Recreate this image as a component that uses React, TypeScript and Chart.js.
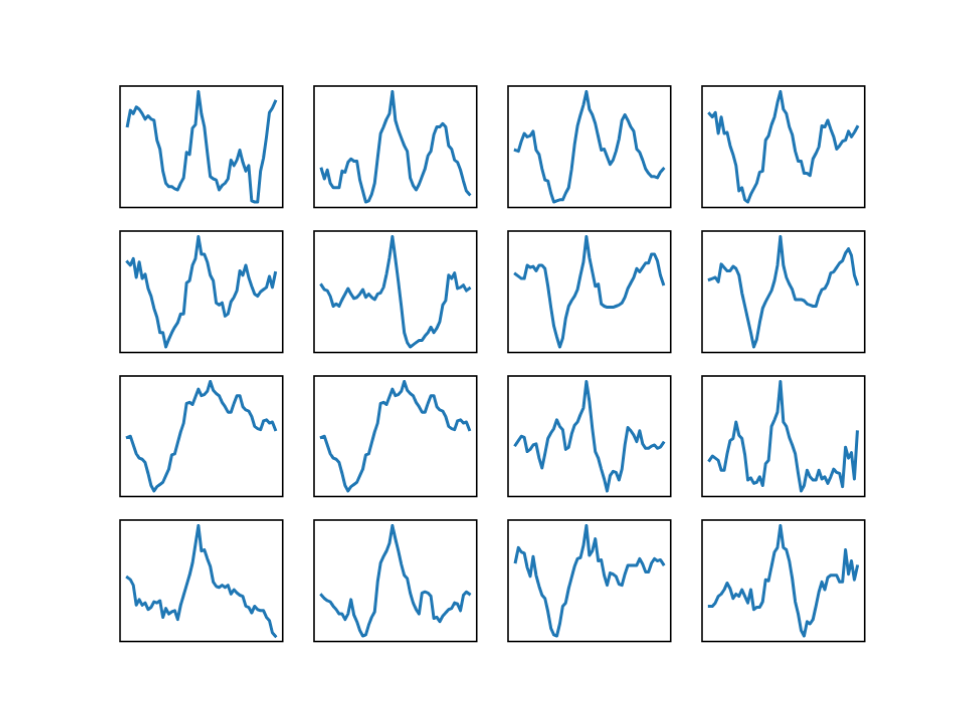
import { useEffect, useRef } from "react";
import { Chart, registerables } from "chart.js";

Chart.register(...registerables);

// sample index along x (same for every panel)
const steps = Array.from({ length: 51 }, (_, i) => i);

// row 1
const r1c1 = [69, 83, 80, 86, 84, 80, 75, 78, 75, 74, 56, 48, 28, 17, 14, 14, 12, 11, 17, 22, 45, 43, 67, 70, 100, 80, 68, 45, 23, 21, 20, 11, 15, 17, 21, 38, 33, 38, 47, 36, 28, 33, 1, 0, 0, 28, 40, 59, 81, 85, 91];
const r1c2 = [30, 21, 29, 17, 13, 13, 13, 28, 27, 36, 39, 37, 37, 20, 10, 0, 1, 7, 17, 40, 62, 68, 75, 80, 100, 74, 65, 58, 51, 46, 22, 15, 11, 16, 23, 30, 42, 46, 61, 68, 68, 71, 68, 51, 48, 38, 36, 29, 19, 10, 7];
const r1c3 = [47, 46, 55, 62, 59, 60, 64, 47, 43, 30, 20, 19, 8, 0, 1, 2, 2, 8, 13, 30, 52, 69, 79, 88, 100, 84, 79, 71, 59, 47, 48, 41, 34, 38, 46, 57, 74, 79, 74, 68, 64, 48, 45, 38, 30, 26, 23, 23, 22, 27, 30];
const r1c4 = [80, 77, 81, 62, 77, 62, 63, 51, 43, 33, 10, 13, 2, 0, 7, 12, 17, 27, 28, 56, 60, 70, 77, 90, 100, 84, 80, 68, 61, 46, 37, 37, 26, 26, 24, 39, 44, 50, 69, 68, 74, 66, 59, 48, 51, 55, 56, 64, 59, 63, 68];

// row 2
const r2c1 = [77, 74, 80, 63, 77, 62, 66, 53, 46, 35, 27, 13, 13, 0, 7, 13, 18, 22, 30, 30, 58, 60, 74, 80, 100, 84, 84, 77, 65, 60, 40, 38, 40, 28, 30, 41, 45, 51, 69, 65, 74, 63, 55, 48, 46, 50, 52, 54, 64, 54, 67];
const r2c2 = [56, 52, 51, 46, 37, 39, 37, 43, 48, 53, 48, 44, 45, 48, 52, 45, 48, 45, 43, 48, 49, 54, 66, 81, 100, 80, 59, 37, 13, 4, 0, 2, 4, 6, 6, 10, 13, 18, 13, 17, 23, 38, 42, 65, 62, 67, 53, 54, 56, 51, 53];
const r2c3 = [66, 64, 62, 62, 74, 72, 73, 69, 74, 74, 71, 55, 36, 19, 9, 0, 8, 26, 37, 42, 46, 52, 65, 77, 100, 81, 68, 55, 57, 39, 37, 36, 36, 36, 37, 38, 40, 45, 53, 58, 63, 71, 68, 72, 76, 76, 84, 84, 78, 65, 57];
const r2c4 = [61, 62, 63, 59, 75, 72, 69, 69, 73, 71, 65, 49, 37, 25, 13, 0, 7, 22, 35, 41, 46, 51, 60, 74, 100, 74, 63, 57, 52, 43, 43, 43, 42, 39, 38, 37, 37, 46, 52, 53, 58, 67, 68, 72, 76, 78, 85, 89, 83, 65, 57];

// row 3
const r3c1 = [49, 50, 42, 34, 30, 29, 26, 16, 5, 0, 4, 6, 8, 14, 20, 33, 34, 44, 54, 62, 80, 81, 79, 86, 93, 87, 88, 91, 100, 92, 89, 87, 81, 77, 72, 72, 80, 87, 87, 77, 74, 73, 68, 59, 57, 56, 64, 65, 62, 63, 56];
const r3c2 = [49, 50, 42, 34, 30, 29, 26, 16, 5, 0, 4, 6, 8, 14, 20, 33, 34, 44, 54, 62, 80, 81, 79, 86, 93, 87, 88, 91, 100, 92, 89, 87, 81, 77, 72, 72, 80, 87, 87, 77, 74, 73, 68, 59, 57, 56, 64, 65, 62, 63, 56];
const r3c3 = [42, 46, 50, 49, 36, 38, 42, 43, 30, 21, 34, 48, 53, 57, 65, 59, 56, 38, 40, 52, 60, 63, 70, 76, 100, 82, 57, 36, 30, 20, 11, 0, 14, 18, 17, 10, 20, 42, 58, 55, 51, 45, 55, 43, 39, 39, 41, 42, 39, 40, 44];
const r3c4 = [28, 32, 30, 28, 19, 19, 34, 46, 48, 63, 51, 48, 33, 10, 12, 7, 8, 13, 5, 25, 28, 59, 65, 72, 100, 63, 59, 49, 42, 34, 16, 0, 5, 19, 13, 10, 10, 19, 11, 13, 7, 13, 20, 17, 16, 4, 40, 30, 35, 11, 54];

// row 4
const r4c1 = [53, 51, 46, 28, 33, 28, 30, 24, 26, 31, 30, 32, 17, 25, 20, 22, 23, 15, 28, 37, 46, 55, 66, 83, 100, 77, 78, 70, 63, 49, 45, 44, 46, 44, 46, 38, 42, 39, 37, 36, 27, 26, 21, 27, 24, 23, 23, 17, 14, 3, 0];
const r4c2 = [37, 34, 32, 31, 27, 24, 20, 20, 15, 20, 33, 19, 13, 5, 0, 1, 10, 17, 22, 49, 66, 72, 77, 84, 100, 88, 77, 65, 55, 52, 39, 30, 24, 20, 39, 40, 39, 36, 16, 17, 13, 18, 21, 24, 25, 30, 29, 23, 37, 40, 38];
const r4c3 = [67, 80, 76, 75, 62, 54, 72, 55, 45, 37, 34, 22, 7, 1, 0, 11, 27, 30, 43, 53, 63, 70, 71, 82, 100, 73, 77, 88, 68, 69, 55, 46, 57, 56, 54, 47, 46, 56, 64, 64, 64, 64, 70, 65, 58, 58, 66, 70, 68, 69, 65];
const r4c4 = [27, 27, 30, 36, 38, 42, 48, 43, 34, 38, 36, 42, 36, 30, 42, 24, 26, 26, 31, 51, 50, 63, 76, 80, 100, 80, 78, 68, 52, 31, 20, 5, 0, 13, 11, 15, 27, 40, 49, 42, 53, 55, 55, 55, 49, 49, 78, 56, 68, 51, 63];

const grid = [
  [r1c1, r1c2, r1c3, r1c4],
  [r2c1, r2c2, r2c3, r2c4],
  [r3c1, r3c2, r3c3, r3c4],
  [r4c1, r4c2, r4c3, r4c4],
];

// matplotlib default subplot geometry on a 960x720 figure
const W = 744 / 4.6;
const H = 554.4 / 4.6;
const PAD = 2;

const framePlugin = {
  id: "frame",
  afterDraw(chart: any) {
    const { ctx, chartArea } = chart;
    ctx.save();
    ctx.strokeStyle = "#000";
    ctx.lineWidth = 1.6;
    ctx.strokeRect(chartArea.left, chartArea.top, chartArea.right - chartArea.left, chartArea.bottom - chartArea.top);
    ctx.restore();
  },
};

const Panel = ({ values, left, top }: { values: number[]; left: number; top: number }) => {
  const ref = useRef<HTMLCanvasElement | null>(null);

  useEffect(() => {
    const ctx = ref.current?.getContext("2d");
    if (!ctx) return;

    const lo = Math.min(...values);
    const hi = Math.max(...values);
    const span = hi - lo;
    const n = steps.length - 1;

    const chart = new Chart(ctx, {
      type: "line",
      data: {
        datasets: [
          {
            data: values.map((v, i) => ({ x: steps[i], y: v })),
            borderColor: "#1f77b4",
            borderWidth: 3,
            pointRadius: 0,
            tension: 0,
            borderJoinStyle: "round",
            borderCapStyle: "square",
          },
        ],
      },
      options: {
        animation: false,
        responsive: true,
        maintainAspectRatio: false,
        layout: { padding: PAD },
        plugins: { legend: { display: false }, tooltip: { enabled: false } },
        scales: {
          x: { type: "linear", display: false, min: -0.05 * n, max: n * 1.05 },
          y: { type: "linear", display: false, min: lo - 0.05 * span, max: hi + 0.05 * span },
        },
      },
      plugins: [framePlugin],
    });

    return () => {
      chart.destroy();
    };
  }, [values]);

  return (
    <div style={{ position: "absolute", left: left - PAD, top: top - PAD, width: W + 2 * PAD, height: H + 2 * PAD }}>
      <canvas ref={ref}></canvas>
    </div>
  );
};

const App = () => {
  return (
    <div style={{ position: "absolute", left: 0, top: 0, width: 960, height: 720, background: "#fff" }}>
      {grid.map((row, r) =>
        row.map((values, c) => (
          <Panel key={`${r}-${c}`} values={values} left={120 + c * W * 1.2} top={86.4 + r * H * 1.2} />
        ))
      )}
    </div>
  );
};

export default App;
